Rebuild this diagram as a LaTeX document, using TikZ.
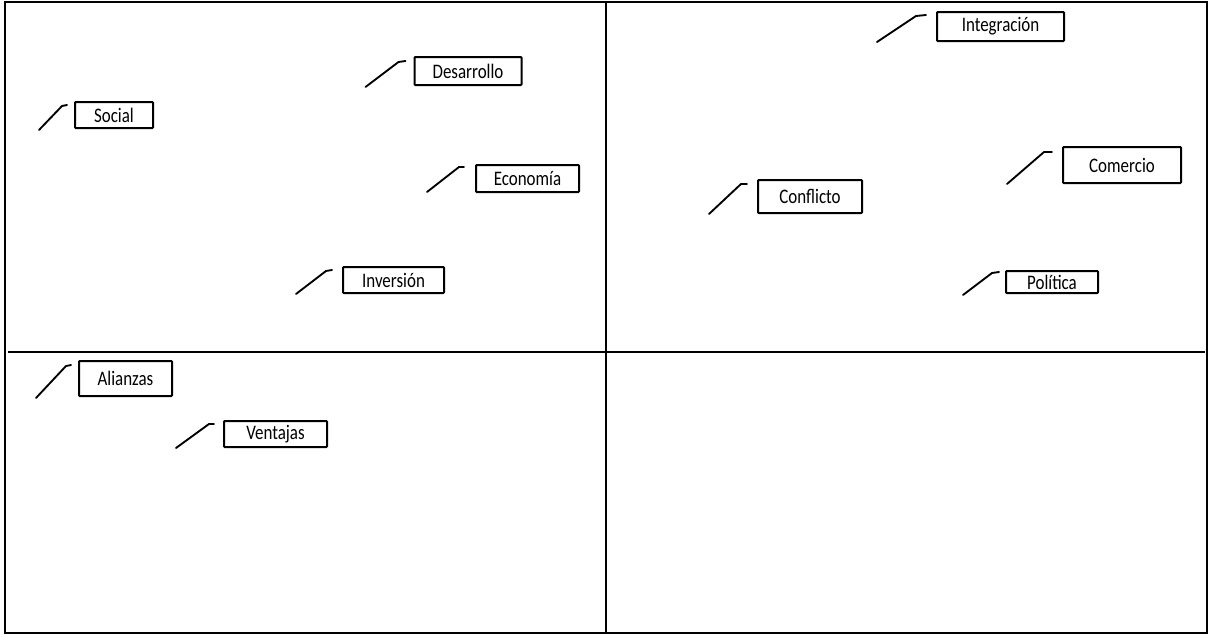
\documentclass[tikz,border=0pt]{standalone}
\usepackage{fontspec}
\setmainfont[FakeStretch=0.82]{Carlito}
\tikzset{every picture/.style={line width=0.75pt}}
\tikzset{
lbl/.style={draw, line width=1.5pt, rounded corners=0.6pt, inner sep=0pt, font=\fontsize{15.5}{17}\selectfont},
leader/.style={line width=1.4pt, line cap=round, line join=round},
frame/.style={line width=2pt}}

\begin{document}
\begin{tikzpicture}[x=0.75pt,y=0.75pt,yscale=-1,xscale=1]
\useasboundingbox (0,0) rectangle (1210,639);

%Frame and quadrants
\draw[frame] (5,2) rectangle (1207,633);
\draw[line width=1.5pt] (606,2) -- (606,633);
\draw[line width=1.5pt] (8,352) -- (1205,352);

% Text Node
\node[lbl, minimum width=58.5pt, minimum height=19.5pt] (social) at (114,115) {Social};
\node[lbl, minimum width=80.25pt, minimum height=21pt] (desarrollo) at (468,71) {Desarrollo};
\node[lbl, minimum width=77.25pt, minimum height=20.25pt] (economia) at (527.5,178.5) {Economía};
\node[lbl, minimum width=75.75pt, minimum height=19.5pt] (inversion) at (393.5,280) {Inversión};
\node[lbl, minimum width=78pt, minimum height=24.75pt] (conflicto) at (810,196.5) {Conflicto};
\node[lbl, minimum width=95.25pt, minimum height=21.75pt] (integracion) at (1000.5,26.5) {Integración};
\node[lbl, minimum width=88.5pt, minimum height=27pt] (comercio) at (1122,165) {Comercio};
\node[lbl, minimum width=69pt, minimum height=16.5pt] (politica) at (1052,282) {Política};
\node[lbl, minimum width=69.75pt, minimum height=26.25pt] (alianzas) at (125.5,378.5) {Alianzas};
\node[lbl, minimum width=77.25pt, minimum height=19.5pt] (ventajas) at (275.5,434) {Ventajas};

%Leaders
\draw[leader] (social.north west) ++(-7,4) -- ++(-5,1) -- ++(-23,24);
\draw[leader] (desarrollo.north west) ++(-8,5) -- ++(-7,1) -- ++(-33,25);
\draw[leader] (economia.north west) ++(-11,3) -- ++(-5,0) -- ++(-32,25);
\draw[leader] (inversion.north west) ++(-10,4) -- ++(-6,1) -- ++(-30,23);
\draw[leader] (conflicto.north west) ++(-10,5) -- ++(-6,0) -- ++(-32,30);
\draw[leader] (integracion.north west) ++(-10,4) -- ++(-10,1) -- ++(-39,26);
\draw[leader] (comercio.north west) ++(-10,6) -- ++(-8,0) -- ++(-37,32);
\draw[leader] (politica.north west) ++(-6,2) -- ++(-7,1) -- ++(-29,22);
\draw[leader] (alianzas.north west) ++(-7,5) -- ++(-5,1) -- ++(-30,32);
\draw[leader] (ventajas.north west) ++(-9,4) -- ++(-5,0) -- ++(-33,24);

\end{tikzpicture}
\end{document}
